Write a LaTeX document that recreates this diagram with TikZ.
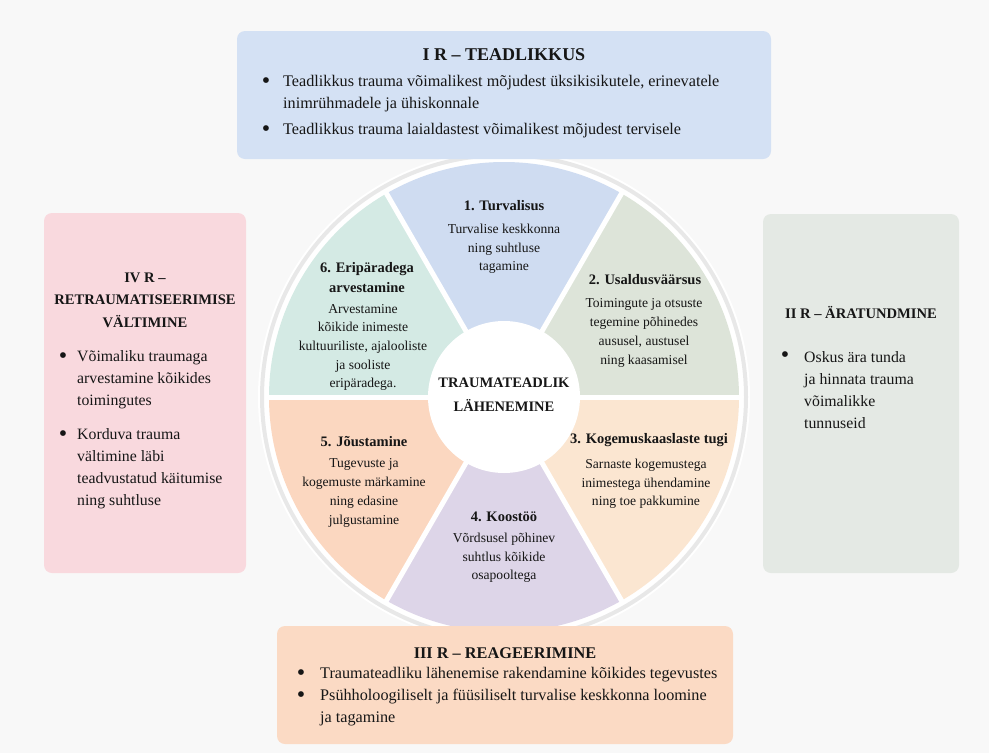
\documentclass[tikz,border=0pt]{standalone}
\usepackage{fontspec}
\setmainfont{Liberation Serif}
\definecolor{bg}{RGB}{248,248,248}
\definecolor{ink}{RGB}{22,22,22}
\definecolor{boxblue}{RGB}{212,225,244}
\definecolor{boxpink}{RGB}{249,217,222}
\definecolor{boxgray}{RGB}{228,233,228}
\definecolor{boxpeach}{RGB}{251,218,196}
\definecolor{sOne}{RGB}{207,220,241}
\definecolor{sTwo}{RGB}{221,228,217}
\definecolor{sThree}{RGB}{251,230,209}
\definecolor{sFour}{RGB}{221,213,232}
\definecolor{sFive}{RGB}{251,215,192}
\definecolor{sSix}{RGB}{212,234,228}
\definecolor{ringgray}{RGB}{232,232,232}
\begin{document}
\begin{tikzpicture}[x=1pt,y=-1pt,
  txt/.style={text=ink, inner sep=0pt},
  bigtitle/.style={txt, font=\fontsize{18}{22}\selectfont\bfseries},
  bottitle/.style={txt, font=\fontsize{16.3}{22}\selectfont\bfseries},
  sidetitle/.style={txt, align=center, font=\fontsize{14.6}{22.5}\selectfont\bfseries},
  bodytext/.style={txt, align=left, anchor=west, font=\fontsize{16.2}{22}\selectfont},
  sidebody/.style={txt, align=left, anchor=west, font=\fontsize{15.8}{22}\selectfont},
  bul/.style={txt, font=\fontsize{24}{22}\selectfont},
  segtitle/.style={txt, align=center, font=\fontsize{14.5}{19.5}\selectfont\bfseries},
  segbody/.style={txt, align=center, font=\fontsize{13.6}{18.7}\selectfont},
  centertitle/.style={txt, align=center, font=\fontsize{14.5}{24}\selectfont\bfseries},
  panel/.style={rounded corners=8pt}
]
\useasboundingbox (0,0) rectangle (989,753);
\fill[bg] (0,0) rectangle (989,753);

% wheel
\begin{scope}[shift={(504,397)}, y=1pt]
  \fill[white] (0,0) circle[radius=246];
  \draw[ringgray, line width=4pt] (0,0) circle[radius=242];
  \fill[sOne]   (0,0) -- (60:235)  arc[start angle=60,  end angle=120, radius=235] -- cycle;
  \fill[sTwo]   (0,0) -- (0:235)   arc[start angle=0,   end angle=60,  radius=235] -- cycle;
  \fill[sThree] (0,0) -- (300:235) arc[start angle=300, end angle=360, radius=235] -- cycle;
  \fill[sFour]  (0,0) -- (240:235) arc[start angle=240, end angle=300, radius=235] -- cycle;
  \fill[sFive]  (0,0) -- (180:235) arc[start angle=180, end angle=240, radius=235] -- cycle;
  \fill[sSix]   (0,0) -- (120:235) arc[start angle=120, end angle=180, radius=235] -- cycle;
  \foreach \a in {0,60,120,180,240,300}{
    \draw[white, line width=5pt] (0,0) -- (\a:237);
  }
  \fill[white] (0,0) circle[radius=76];
\end{scope}

% panels
\fill[boxblue, panel]  (237,31)  rectangle (771,159);
\fill[boxpink, panel]  (44,213)  rectangle (246,573);
\fill[boxgray, panel]  (763,214) rectangle (959,573);
\fill[boxpeach, panel] (277,626) rectangle (733,744);

% top panel
\node[bigtitle] (topT) at (504,55) {I R – TEADLIKKUS};
\node[bul] (topB1) at (266,83) {•};
\node[bodytext] (topX1) at (283,94) {Teadlikkus trauma võimalikest mõjudest üksikisikutele, erinevatele\\inimrühmadele ja ühiskonnale};
\node[bul] (topB2) at (266,131) {•};
\node[bodytext] (topX2) at (283,131) {Teadlikkus trauma laialdastest võimalikest mõjudest tervisele};

% bottom panel
\node[bottitle] (botT) at (505,653) {III R – REAGEERIMINE};
\node[bul] (botB1) at (301,675) {•};
\node[bodytext] (botX1) at (320,675) {Traumateadliku lähenemise rakendamine kõikides tegevustes};
\node[bul] (botB2) at (301,697) {•};
\node[bodytext] (botX2) at (320,708) {Psühholoogiliselt ja füüsiliselt turvalise keskkonna loomine\\ja tagamine};

% left panel
\node[sidetitle] (leftT) at (145,300) {IV R –\\RETRAUMATISEERIMISE\\VÄLTIMINE};
\node[bul] (leftB1) at (63,358) {•};
\node[sidebody] (leftX1) at (77,380) {Võimaliku traumaga\\arvestamine kõikides\\toimingutes};
\node[bul] (leftB2) at (63,436) {•};
\node[sidebody] (leftX2) at (77,469) {Korduva trauma\\vältimine läbi\\teadvustatud käitumise\\ning suhtluse};

% right panel
\node[sidetitle] (rightT) at (861,312) {II R – ÄRATUNDMINE};
\node[bul] (rightB1) at (785,357) {•};
\node[sidebody] (rightX1) at (804,390) {Oskus ära tunda\\ja hinnata trauma\\võimalikke\\tunnuseid};

% wheel texts
\node[segtitle] (s1T) at (504,206) {1. Turvalisus};
\node[segbody]  (s1X) at (504,249) {Turvalise keskkonna\\ning suhtluse\\tagamine};
\node[segtitle] (s2T) at (645,280) {2. Usaldusväärsus};
\node[segbody]  (s2X) at (644,333) {Toimingute ja otsuste\\tegemine põhinedes\\aususel, austusel\\ning kaasamisel};
\node[segtitle] (s3T) at (649,440) {3. Kogemuskaaslaste tugi};
\node[segbody]  (s3X) at (646,484) {Sarnaste kogemustega\\inimestega ühendamine\\ning toe pakkumine};
\node[segtitle] (s4T) at (504,517) {4. Koostöö};
\node[segbody]  (s4X) at (504,558) {Võrdsusel põhinev\\suhtlus kõikide\\osapooltega};
\node[segtitle] (s5T) at (364,442) {5. Jõustamine};
\node[segbody]  (s5X) at (364,493) {Tugevuste ja\\kogemuste märkamine\\ning edasine\\julgustamine};
\node[segtitle] (s6T) at (367,277.5) {6. Eripäradega\\arvestamine};
\node[segbody]  (s6X) at (363,347.5) {Arvestamine\\kõikide inimeste\\kultuuriliste, ajalooliste\\ja sooliste\\eripäradega.};
\node[centertitle] (cT) at (504,395) {TRAUMATEADLIK\\LÄHENEMINE};
\end{tikzpicture}
\end{document}
